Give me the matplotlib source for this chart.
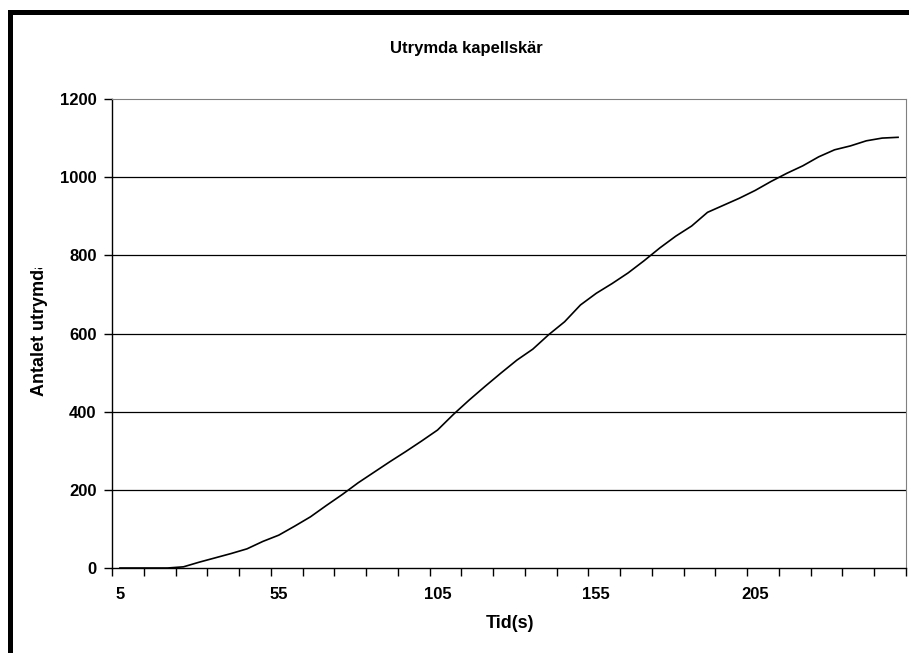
import matplotlib
matplotlib.use("Agg")
import matplotlib.pyplot as plt
from matplotlib.patches import Rectangle

plt.rcParams['font.family'] = ['Liberation Sans', 'DejaVu Sans']

# Evacuation time (s) and cumulative number evacuated
tid = [5, 10, 15, 20, 25, 30, 35, 40, 45, 50,
       55, 60, 65, 70, 75, 80, 85, 90, 95, 100,
       105, 110, 115, 120, 125, 130, 135, 140, 145, 150,
       155, 160, 165, 170, 175, 180, 185, 190, 195, 200,
       205, 210, 215, 220, 225, 230, 235, 240, 245, 250]
utrymda = [0, 0, 0, 0, 3, 15, 26, 37, 49, 68,
           84, 107, 131, 160, 188, 218, 245, 272, 298, 325,
           353, 393, 430, 465, 499, 532, 560, 597, 630, 673,
           703, 728, 755, 786, 819, 849, 875, 910, 928, 946,
           966, 989, 1010, 1029, 1052, 1070, 1080, 1093, 1100, 1102]

x_labels = [5, 55, 105, 155, 205]
y_ticks = [0, 200, 400, 600, 800, 1000, 1200]

W, H = 909, 653
fig = plt.figure(figsize=(W / 100, H / 100), dpi=100)
fig.patch.set_facecolor('white')

# thick chart-area frame along the left and top edges
fig.patches.append(Rectangle((8 / W, 0), 5 / W, 1 - 10 / H, transform=fig.transFigure,
                             facecolor='black', edgecolor='none', zorder=6))
fig.patches.append(Rectangle((8 / W, 1 - 15 / H), 1 - 8 / W, 5 / H, transform=fig.transFigure,
                             facecolor='black', edgecolor='none', zorder=6))

left, right, top, bottom = 112, 906, 99, 568
ax = fig.add_axes([left / W, 1 - bottom / H, (right - left) / W, (bottom - top) / H])

ax.plot(tid, utrymda, color='black', lw=1.2, zorder=3)

step = tid[1] - tid[0]
ax.set_xlim(tid[0] - step / 2, tid[-1] + step / 2)
ax.set_ylim(0, 1200)

ax.set_yticks(y_ticks)
ax.set_yticklabels([str(v) for v in y_ticks], fontsize=12, fontweight='bold')
ax.set_xticks(x_labels)
ax.set_xticklabels([str(v) for v in x_labels], fontsize=12, fontweight='bold')
ax.tick_params(axis='x', length=0, pad=14)
ax.tick_params(axis='y', length=6, width=1, direction='out', pad=5)
# category-boundary tick marks every second category
ax.set_xticks([tid[0] - step / 2 + 2 * step * k for k in range(26)], minor=True)
ax.tick_params(axis='x', which='minor', length=6, width=1, direction='out')

for v in y_ticks[1:-1]:
    ax.axhline(v, color='black', lw=0.9, zorder=1)

ax.spines['left'].set_color('black')
ax.spines['bottom'].set_color('black')
ax.spines['left'].set_linewidth(1.0)
ax.spines['bottom'].set_linewidth(1.0)
ax.spines['top'].set_color('#808080')
ax.spines['right'].set_color('#808080')

fig.text(466 / W, 1 - 48 / H, 'Utrymda kapellskär', ha='center', va='center',
         fontsize=12, fontweight='bold')
fig.text(510 / W, 1 - 623 / H, 'Tid(s)', ha='center', va='center',
         fontsize=13, fontweight='bold')

fig.text(40 / W, 1 - 396 / H, 'Antalet utrymda', ha='center', va='bottom',
         rotation=90, fontsize=13, fontweight='bold', zorder=3)
# the axis title is cut off by its own box at the top
fig.patches.append(Rectangle((22 / W, 1 - 268 / H), 34 / W, 100 / H, transform=fig.transFigure,
                             facecolor='white', edgecolor='none', zorder=5))

fig.savefig('out.png', dpi=100)
